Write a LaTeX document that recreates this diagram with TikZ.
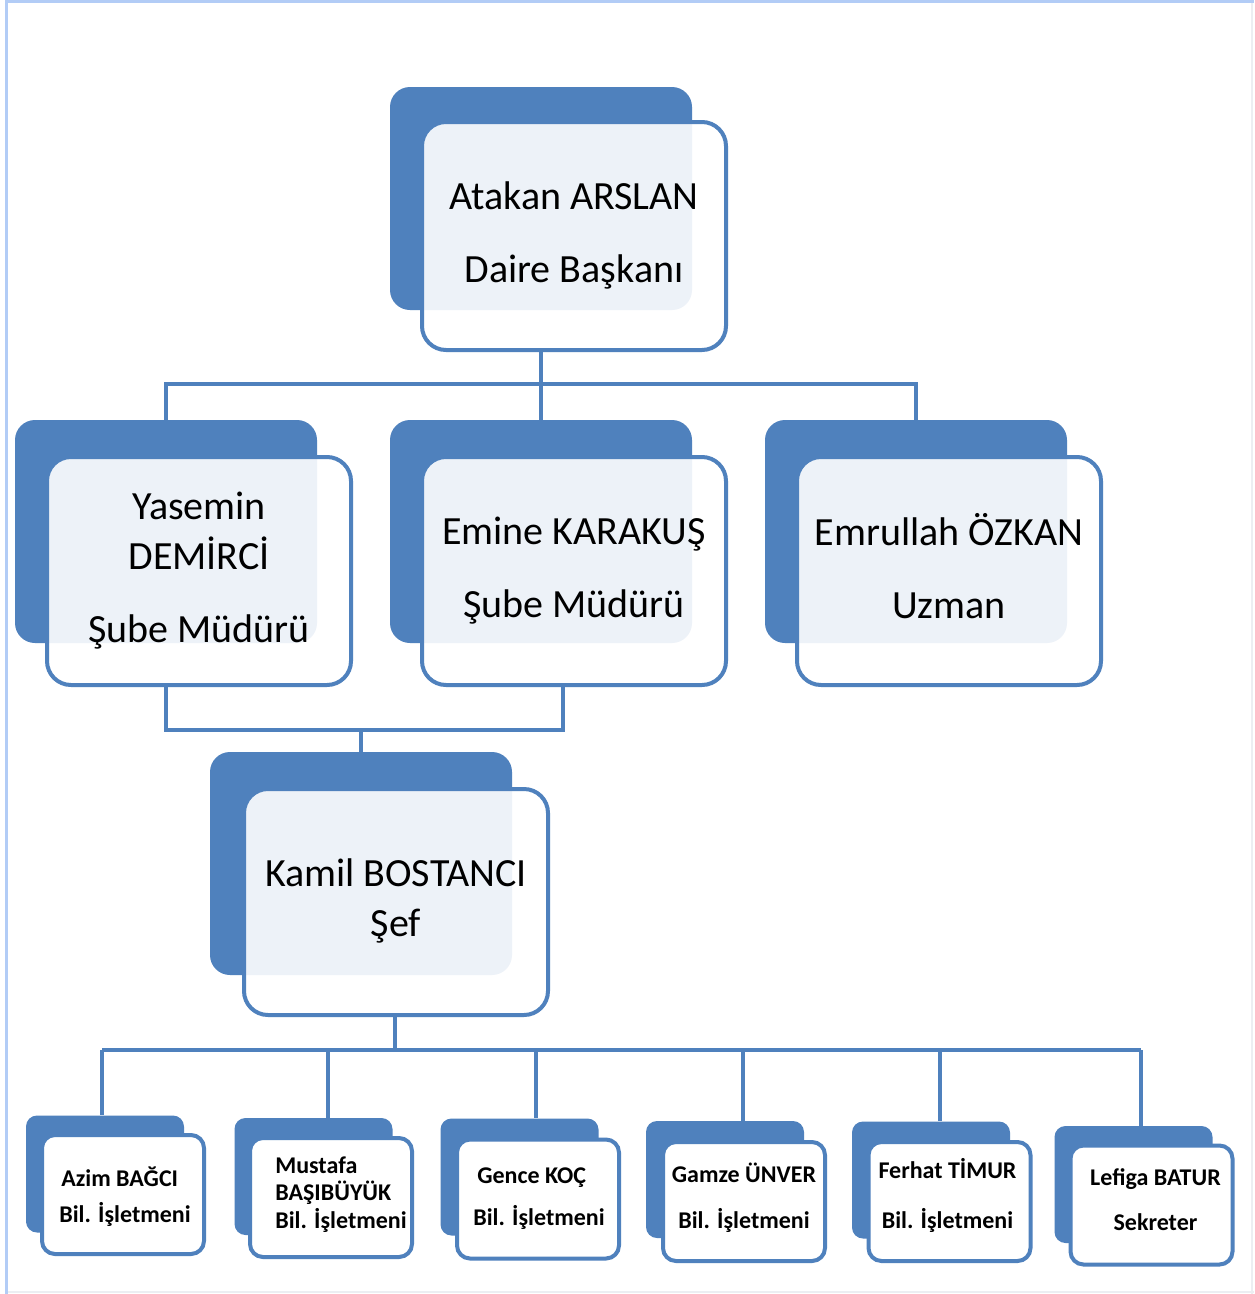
\documentclass[tikz,border=0pt]{standalone}
\usepackage{fontspec}
\setmainfont{Carlito}
\definecolor{bl}{RGB}{79,129,189}
\definecolor{bord}{RGB}{178,204,246}
\definecolor{edgegray}{RGB}{236,238,242}
\tikzset{
  backbox/.style={fill=bl, draw=none, inner sep=0pt, rounded corners=20pt,
    minimum width=302pt, minimum height=223pt},
  frontbox/.style={draw=bl, line width=4pt, fill=white, fill opacity=0.9,
    rounded corners=24pt, inner sep=0pt,
    minimum width=304pt, minimum height=228pt},
  bigtext/.style={inner sep=0pt, align=center, text=black,
    font=\fontsize{40}{50}\selectfont},
  sback/.style={fill=bl, draw=none, inner sep=0pt, rounded corners=11pt,
    minimum width=158pt, minimum height=117pt},
  sfront/.style={draw=bl, line width=4pt, fill=white,
    rounded corners=13pt, inner sep=0pt,
    minimum width=162pt, minimum height=119pt},
  smalltext/.style={inner sep=0pt, align=center, text=black,
    font=\fontsize{24}{27}\selectfont\bfseries},
  conn/.style={draw=bl, line width=4pt}
}
\begin{document}
\begin{tikzpicture}[x=1pt,y=-1pt]
\useasboundingbox (0,0) rectangle (1254,1294);
\fill[white] (0,0) rectangle (1254,1294);
% frame
\draw[edgegray, line width=2pt] (1252,0) -- (1252,1294);
\draw[edgegray, line width=2pt] (6,1292) -- (1254,1292);
\draw[bord, line width=3pt] (6,1294) -- (6,1.5) -- (1254,1.5);

% junction coordinates
\coordinate (j1) at (541,384);
\coordinate (j2) at (362,730);
\coordinate (j3) at (563,730);
\coordinate (j4) at (395,1050);
\coordinate (b1) at (102,1050);
\coordinate (b2) at (328,1050);
\coordinate (b3) at (536,1050);
\coordinate (b4) at (743,1050);
\coordinate (b5) at (940,1050);
\coordinate (b6) at (1141,1050);

% back boxes
\node[backbox] (atakanB) at (541,198.5) {};
\node[backbox] (yasB) at (166,531.5) {};
\node[backbox] (emiB) at (541,531.5) {};
\node[backbox] (emrB) at (916,531.5) {};
\node[backbox] (kamB) at (361,863.5) {};
\node[sback] (azimB) at (105,1174) {};
\node[sback] (musB) at (313.5,1176.5) {};
\node[sback] (genB) at (519.5,1177) {};
\node[sback] (gamB) at (725,1179.5) {};
\node[sback] (ferB) at (931,1180) {};
\node[sback] (lefB) at (1133.5,1184.5) {};

% front boxes
\node[frontbox] (atakan) at (574,236) {};
\node[frontbox] (yasemin) at (199,571) {};
\node[frontbox] (emine) at (574,571) {};
\node[frontbox] (emrullah) at (949,571) {};
\node[frontbox, minimum height=226pt] (kamil) at (396,902) {};
\node[sfront] (azim) at (123,1194.5) {};
\node[sfront] (mustafa) at (331,1197.5) {};
\node[sfront] (gence) at (538,1199) {};
\node[sfront] (gamze) at (744,1201.5) {};
\node[sfront] (ferhat) at (949.5,1201.5) {};
\node[sfront] (lefiga) at (1151.5,1205) {};

% texts
\node[bigtext, yshift=1pt] (atakanT) at (atakan) {Atakan ARSLAN\\[23pt]Daire Başkanı};
\node[bigtext] (yaseminT) at (yasemin) {Yasemin\\DEMİRCİ\\[23pt]Şube Müdürü};
\node[bigtext] (emineT) at (emine) {Emine KARAKUŞ\\[23pt]Şube Müdürü};
\node[bigtext, yshift=5pt] (emrullahT) at (emrullah) {Emrullah ÖZKAN\\[23pt]Uzman};
\node[bigtext, yshift=1pt] (kamilT) at (kamil) {Kamil BOSTANCI\\Şef};
\node[smalltext, align=left, xshift=2pt, yshift=-2pt] (azimT) at (azim) {\hspace*{2pt}Azim BAĞCI\\[9pt]Bil. İşletmeni};
\node[smalltext, align=left, xshift=10pt, yshift=3pt,
      font=\fontsize{24}{27.5}\selectfont\bfseries] (mustafaT) at (mustafa)
      {Mustafa\\BAŞIBÜYÜK\\Bil. İşletmeni};
\node[smalltext, align=left, xshift=1pt] (genceT) at (gence) {\hspace*{4pt}Gence KOÇ\\[15pt]Bil. İşletmeni};
\node[smalltext, yshift=4pt] (gamzeT) at (gamze) {Gamze ÜNVER\\[19pt]Bil. İşletmeni};
\node[smalltext, xshift=-2pt, yshift=6pt] (ferhatT) at (ferhat) {Ferhat TİMUR\\[23pt]Bil. İşletmeni};
\node[smalltext, xshift=4pt, yshift=5pt] (lefigaT) at (lefiga) {Lefiga BATUR\\[18pt]Sekreter};

% connectors
\draw[conn] (atakanB.center |- atakan.south) -- (j1);
\draw[conn] (yasB.north) |- (j1) -| (emrB.north);
\draw[conn] (j1) -- (emiB.north);
\draw[conn] (yasB.center |- yasemin.south) |- (j3) -- (j3 |- emine.south);
\draw[conn] (kamB.north |- j2) -- (kamB.north);
\draw[conn] (kamil.south -| j4) -- (j4);
\draw[conn] (b1) -- (b6);
\draw[conn] (b1) -- (b1 |- azimB.north);
\draw[conn] (b2) -- (b2 |- musB.north);
\draw[conn] (b3) -- (b3 |- genB.north);
\draw[conn] (b4) -- (b4 |- gamB.north);
\draw[conn] (b5) -- (b5 |- ferB.north);
\draw[conn] (b6) -- (b6 |- lefB.north);
\end{tikzpicture}
\end{document}
